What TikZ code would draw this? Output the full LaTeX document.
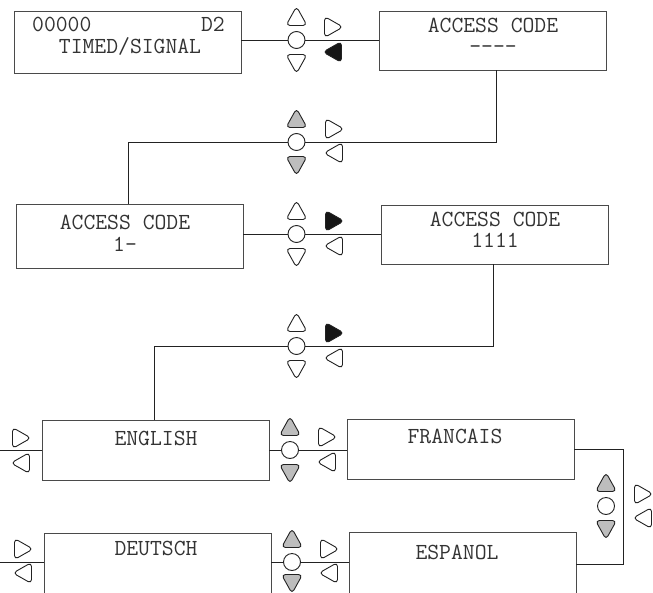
\documentclass[tikz,border=0pt]{standalone}
\usepackage{fontspec}
\definecolor{txt}{HTML}{333333}
\definecolor{boxc}{HTML}{4A4A4A}
\definecolor{linec}{HTML}{222222}
\definecolor{trigray}{HTML}{BDBDBD}
\definecolor{triblack}{HTML}{161616}
\tikzset{
  panel/.style={draw=boxc, line width=1pt, minimum width=227pt, inner sep=0pt, outer sep=0pt},
  lbl/.style={font=\ttfamily\fontsize{23}{20}\selectfont, text=txt, inner sep=0pt, anchor=base},
  lbl2/.style={lbl, align=center, anchor=north},
  knob/.style={circle, draw=linec, fill=white, line width=0.9pt, minimum size=17pt, inner sep=0pt, outer sep=0pt},
  conn/.style={draw=linec, line width=1pt},
  trishape/.style={draw=linec, line width=0.9pt, rounded corners=4pt, line join=round},
  triU/.pic={\path[trishape, pic actions] (0,-10.5) -- (10.5,8.5) -- (-10.5,8.5) -- cycle;},
  triD/.pic={\path[trishape, pic actions] (0,10.5) -- (10.5,-8.5) -- (-10.5,-8.5) -- cycle;},
  triR/.pic={\path[trishape, pic actions] (10,0) -- (-8.5,10.5) -- (-8.5,-10.5) -- cycle;},
  triL/.pic={\path[trishape, pic actions] (-10,0) -- (8.5,10.5) -- (8.5,-10.5) -- cycle;},
}
\begin{document}
\begin{tikzpicture}[x=1pt,y=-1pt]
\clip (0,0) rectangle (653,592);
\fill[white] (0,0) rectangle (653,592);
% panels
\node[panel, minimum height=62pt] (b1) at (127.5,42) {};
\node[panel, minimum height=59pt] (b2) at (492.5,40.5) {};
\node[panel, minimum height=64pt] (b3) at (129.5,236) {};
\node[panel, minimum height=59pt] (b4) at (494.5,234.5) {};
\node[panel, minimum height=60pt] (b5) at (155.5,450) {};
\node[panel, minimum height=60pt] (b6) at (460.5,449) {};
\node[panel, minimum height=90pt] (b7) at (157.5,578) {};
\node[panel, minimum height=90pt] (b8) at (462.5,577) {};
% texts
\node[lbl, anchor=base west] (t1a) at (32,31.5) {00000};
\node[lbl, anchor=base east] (t1b) at (225,31.5) {D2};
\node[lbl] (t1c) at (130,53.5) {TIMED/SIGNAL};
\node[lbl2] (t2) at (493,17.5) {ACCESS CODE\\[1.5pt]----};
\node[lbl2] (t3) at (125,215) {ACCESS CODE\\[1.5pt]1—};
\node[lbl2] (t4) at (495,211.5) {ACCESS CODE\\[1.5pt]1111};
\node[lbl] (t5) at (156,445.5) {ENGLISH};
\node[lbl] (t6) at (455,443.5) {FRANCAIS};
\node[lbl] (t7) at (156,555.5) {DEUTSCH};
\node[lbl] (t8) at (457,559.5) {ESPANOL};
% knobs
\node[knob] (cA) at (296.5,40) {};
\node[knob] (cB) at (296.5,142) {};
\node[knob] (cC) at (296.5,234) {};
\node[knob] (cD) at (296.5,346) {};
\node[knob] (cE) at (290,450) {};
\node[knob] (cF) at (606,506) {};
\node[knob] (cG) at (292,562) {};
% free ends
\coordinate (lE) at (0,450);
\coordinate (lG) at (0,562);
\coordinate (rr) at (623,564);
% connectors
\draw[conn] (b1.east |- cA) -- (cA.west);
\draw[conn] (cA.east) -- (b2.west |- cA);
\draw[conn] ([xshift=3.5pt]b2.south) |- (cB.east);
\draw[conn] (cB.west) -| ([xshift=-1.5pt]b3.north);
\draw[conn] (b3.east |- cC) -- (cC.west);
\draw[conn] (cC.east) -- (b4.west |- cC);
\draw[conn] ([xshift=-1.5pt]b4.south) |- (cD.east);
\draw[conn] (cD.west) -| ([xshift=-1.5pt]b5.north);
\draw[conn] (b5.east) -- (cE.west);
\draw[conn] (cE.east) -- (b6.west |- cE);
\draw[conn] (b5.west) -- (lE);
\draw[conn] (b6.east) -| (rr) -- (b8.east |- rr);
\draw[conn] (b7.east |- cG) -- (cG.west);
\draw[conn] (cG.east) -- (b8.west |- cG);
\draw[conn] (b7.west |- cG) -- (lG);
% triangles row A
\pic[fill=white] at (296.5,17) {triU};
\pic[fill=white] at (296.5,63) {triD};
\pic[fill=white] at (333,27) {triR};
\pic[fill=triblack] at (333,52) {triL};
% row B
\pic[fill=trigray] at (296.5,119) {triU};
\pic[fill=trigray] at (296.5,165) {triD};
\pic[fill=white] at (334,129) {triR};
\pic[fill=white] at (334,153) {triL};
% row C
\pic[fill=white] at (296.5,211) {triU};
\pic[fill=white] at (296.5,257) {triD};
\pic[fill=triblack] at (334,221) {triR};
\pic[fill=white] at (334,246) {triL};
% row D
\pic[fill=white] at (296.5,323) {triU};
\pic[fill=white] at (296.5,369) {triD};
\pic[fill=triblack] at (334,333) {triR};
\pic[fill=white] at (334,358) {triL};
% row E
\pic[fill=trigray] at (290,427) {triU};
\pic[fill=trigray] at (290,473) {triD};
\pic[fill=white] at (327,437) {triR};
\pic[fill=white] at (327,462) {triL};
\pic[fill=white] at (21,438) {triR};
\pic[fill=white] at (21,463) {triL};
% right column
\pic[fill=trigray] at (606,483) {triU};
\pic[fill=trigray] at (606,529) {triD};
\pic[fill=white] at (643,494) {triR};
\pic[fill=white] at (643,518) {triL};
% row G
\pic[fill=trigray] at (292,539) {triU};
\pic[fill=trigray] at (292,583) {triD};
\pic[fill=white] at (329,549) {triR};
\pic[fill=white] at (329,573) {triL};
\pic[fill=white] at (23,549) {triR};
\pic[fill=white] at (23,573) {triL};
\end{tikzpicture}
\end{document}
